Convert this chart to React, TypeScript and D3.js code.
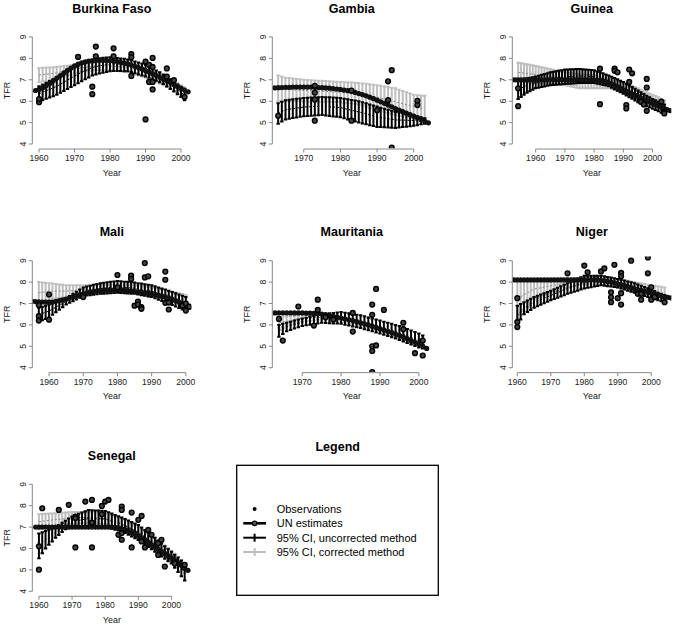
import React from "react";
import * as d3 from "d3";

const COUNTRIES = ["Burkina Faso", "Gambia", "Guinea", "Mali", "Mauritania", "Niger", "Senegal"];

// ---- UN estimates (one value per year, starting at UN_START) ----
const UN_START = [1959, 1962, 1952, 1955, 1963, 1959, 1959];
const UN_BF = [6.50,6.55,6.62,6.72,6.83,6.95,7.08,7.20,7.32,7.44,7.55,7.65,7.73,7.79,7.84,7.87,7.89,7.90,7.91,7.91,7.90,7.89,7.87,7.85,7.82,7.78,7.74,7.69,7.63,7.57,7.50,7.43,7.36,7.28,7.20,7.12,7.04,6.95,6.87,6.78,6.70,6.61,6.52,6.44];
const UN_GM = [6.62,6.63,6.64,6.65,6.65,6.66,6.66,6.66,6.66,6.66,6.66,6.65,6.64,6.63,6.62,6.61,6.59,6.57,6.55,6.52,6.49,6.46,6.41,6.36,6.31,6.25,6.19,6.12,6.05,5.97,5.90,5.82,5.74,5.66,5.59,5.52,5.44,5.37,5.30,5.23,5.15,5.07,4.99];
const UN_GN = [7.00,7.00,7.00,7.00,7.00,7.00,7.00,7.00,7.00,7.00,7.00,7.00,7.00,7.00,7.00,7.00,7.00,7.00,7.00,7.00,7.00,7.00,7.00,7.00,7.00,7.00,7.00,7.00,7.00,6.99,6.97,6.95,6.91,6.86,6.80,6.74,6.67,6.60,6.53,6.46,6.40,6.33,6.27,6.21,6.15,6.09,6.03,5.97,5.91,5.85,5.79,5.73,5.67,5.61,5.56];
const UN_ML = [7.10,7.09,7.08,7.07,7.06,7.06,7.07,7.10,7.13,7.17,7.21,7.26,7.31,7.36,7.41,7.45,7.49,7.53,7.56,7.58,7.60,7.61,7.62,7.63,7.63,7.63,7.62,7.61,7.60,7.58,7.56,7.54,7.52,7.50,7.48,7.45,7.42,7.38,7.34,7.30,7.25,7.19,7.13,7.06,6.98,6.90,6.83];
const UN_MR = [6.56,6.56,6.56,6.56,6.56,6.56,6.56,6.56,6.55,6.55,6.54,6.53,6.51,6.48,6.44,6.40,6.36,6.32,6.28,6.24,6.20,6.15,6.10,6.05,6.00,5.94,5.88,5.82,5.76,5.70,5.64,5.57,5.50,5.43,5.35,5.27,5.19,5.11,5.01,4.90];
const UN_NE = [8.10,8.10,8.10,8.10,8.10,8.10,8.10,8.10,8.10,8.10,8.10,8.10,8.10,8.10,8.10,8.10,8.10,8.10,8.10,8.10,8.10,8.10,8.10,8.10,8.10,8.10,8.08,8.06,8.03,8.00,7.96,7.92,7.88,7.84,7.79,7.74,7.69,7.65,7.61,7.57,7.53,7.49,7.45,7.41,7.37,7.33,7.29,7.26];
const UN_SN = [7.00,7.00,7.00,7.00,7.00,7.00,7.00,7.00,7.00,7.00,7.00,7.00,7.00,7.00,7.00,7.00,7.00,7.00,7.00,7.00,7.00,7.00,7.00,7.00,6.99,6.97,6.93,6.88,6.82,6.75,6.67,6.58,6.48,6.38,6.27,6.16,6.06,5.96,5.86,5.76,5.66,5.56,5.45,5.34,5.22,5.10,4.98];

// ---- 95% CI, one bar per year starting at CI_START ----
const CI_START = [1960, 1963, 1954, 1957, 1964, 1960, 1960];
// uncorrected (black)
const UNC_LO_BF = [6.00,6.05,6.11,6.17,6.23,6.30,6.39,6.48,6.57,6.66,6.75,6.84,6.93,7.02,7.11,7.20,7.25,7.29,7.33,7.37,7.40,7.41,7.41,7.41,7.40,7.40,7.36,7.31,7.25,7.20,7.15,7.09,7.02,6.95,6.88,6.80,6.69,6.57,6.45,6.33,6.20,6.05];
const UNC_HI_BF = [6.70,6.78,6.86,6.94,7.02,7.10,7.20,7.30,7.40,7.50,7.60,7.68,7.76,7.83,7.89,7.95,7.98,8.01,8.03,8.04,8.05,8.04,8.02,8.00,7.98,7.95,7.91,7.86,7.81,7.76,7.70,7.62,7.53,7.44,7.35,7.25,7.14,7.02,6.90,6.78,6.65,6.50];
const UNC_LO_GM = [4.95,5.05,5.15,5.18,5.21,5.24,5.27,5.30,5.31,5.32,5.33,5.34,5.35,5.33,5.31,5.29,5.27,5.25,5.20,5.15,5.10,5.05,5.00,4.96,4.92,4.88,4.84,4.80,4.79,4.78,4.77,4.76,4.75,4.77,4.79,4.81,4.83,4.85,4.88,4.92,4.95];
const UNC_HI_GM = [5.90,5.98,6.05,6.07,6.09,6.11,6.13,6.15,6.16,6.17,6.18,6.19,6.20,6.19,6.18,6.17,6.16,6.15,6.12,6.09,6.06,6.03,6.00,5.95,5.90,5.85,5.80,5.75,5.70,5.65,5.60,5.55,5.50,5.47,5.44,5.41,5.38,5.35,5.30,5.25,5.20];
const UNC_LO_GN = [6.10,6.20,6.30,6.40,6.47,6.54,6.60,6.63,6.66,6.69,6.72,6.75,6.76,6.77,6.78,6.79,6.80,6.81,6.82,6.83,6.84,6.85,6.85,6.85,6.85,6.85,6.85,6.82,6.79,6.76,6.73,6.70,6.63,6.56,6.49,6.42,6.35,6.27,6.19,6.11,6.03,5.95,5.89,5.83,5.77,5.71,5.65,5.59,5.53,5.46,5.40];
const UNC_HI_GN = [7.00,7.02,7.05,7.07,7.10,7.12,7.15,7.19,7.23,7.27,7.31,7.35,7.38,7.40,7.43,7.45,7.48,7.48,7.49,7.49,7.50,7.50,7.49,7.48,7.47,7.46,7.45,7.40,7.35,7.30,7.25,7.20,7.14,7.08,7.02,6.96,6.90,6.82,6.74,6.66,6.58,6.50,6.42,6.34,6.26,6.18,6.10,6.04,5.98,5.91,5.85];
const UNC_LO_ML = [6.15,6.22,6.28,6.35,6.47,6.59,6.71,6.83,6.95,7.03,7.11,7.19,7.27,7.35,7.37,7.39,7.41,7.43,7.45,7.46,7.47,7.48,7.49,7.50,7.49,7.48,7.47,7.46,7.45,7.42,7.39,7.36,7.33,7.30,7.24,7.18,7.12,7.06,7.00,6.93,6.86,6.79,6.72,6.65];
const UNC_HI_ML = [6.80,6.85,6.90,6.95,7.01,7.07,7.13,7.19,7.25,7.35,7.45,7.55,7.65,7.75,7.79,7.83,7.87,7.91,7.95,7.97,7.99,8.01,8.03,8.05,8.04,8.02,8.01,7.99,7.98,7.95,7.93,7.90,7.88,7.85,7.80,7.75,7.70,7.65,7.60,7.54,7.48,7.42,7.36,7.30];
const UNC_LO_MR = [5.45,5.58,5.70,5.76,5.83,5.89,5.95,5.98,6.01,6.04,6.07,6.10,6.09,6.08,6.07,6.06,6.05,6.01,5.97,5.93,5.89,5.85,5.80,5.75,5.70,5.65,5.60,5.54,5.48,5.42,5.36,5.30,5.23,5.16,5.09,5.02,4.95,4.90];
const UNC_HI_MR = [6.00,6.05,6.10,6.15,6.20,6.25,6.30,6.34,6.38,6.42,6.46,6.50,6.52,6.54,6.56,6.58,6.60,6.57,6.54,6.51,6.48,6.45,6.40,6.35,6.30,6.25,6.20,6.15,6.10,6.05,6.00,5.95,5.88,5.81,5.74,5.67,5.60,5.50];
const UNC_LO_NE = [6.00,6.25,6.50,6.60,6.70,6.80,6.87,6.94,7.01,7.08,7.15,7.21,7.27,7.33,7.39,7.45,7.50,7.55,7.60,7.65,7.70,7.73,7.76,7.79,7.82,7.85,7.83,7.81,7.79,7.77,7.75,7.70,7.65,7.60,7.55,7.50,7.45,7.40,7.35,7.30,7.25,7.20,7.15,7.10,7.05];
const UNC_HI_NE = [6.90,6.98,7.06,7.14,7.22,7.30,7.36,7.42,7.48,7.54,7.60,7.67,7.74,7.81,7.88,7.95,8.02,8.09,8.16,8.23,8.30,8.30,8.30,8.30,8.30,8.30,8.27,8.24,8.21,8.18,8.15,8.11,8.07,8.03,7.99,7.95,7.89,7.83,7.77,7.71,7.65,7.58,7.50,7.43,7.35];
const UNC_LO_SN = [5.55,5.78,6.00,6.17,6.33,6.50,6.63,6.77,6.90,6.95,7.00,7.00,7.00,7.00,7.00,7.00,7.00,7.00,7.00,7.00,7.00,6.96,6.92,6.88,6.84,6.80,6.72,6.64,6.56,6.48,6.40,6.29,6.18,6.07,5.96,5.85,5.74,5.63,5.52,5.41,5.30,5.10,4.90,4.70,4.50];
const UNC_HI_SN = [6.70,6.76,6.82,6.88,6.94,7.00,7.10,7.20,7.30,7.40,7.50,7.56,7.62,7.68,7.74,7.80,7.79,7.78,7.77,7.76,7.75,7.69,7.63,7.57,7.51,7.45,7.38,7.31,7.24,7.17,7.10,6.98,6.86,6.74,6.62,6.50,6.37,6.24,6.11,5.98,5.85,5.71,5.58,5.44,5.30];
// corrected (grey)
const COR_LO_BF = [6.90,6.93,6.96,6.99,7.02,7.05,7.10,7.15,7.20,7.25,7.30,7.34,7.38,7.41,7.43,7.45,7.46,7.46,7.46,7.46,7.45,7.43,7.41,7.39,7.37,7.35,7.30,7.25,7.20,7.15,7.10,7.03,6.96,6.89,6.82,6.75,6.66,6.57,6.48,6.39,6.30,6.20];
const COR_HI_BF = [7.55,7.56,7.57,7.58,7.59,7.60,7.62,7.64,7.66,7.68,7.70,7.72,7.74,7.76,7.78,7.80,7.81,7.82,7.83,7.84,7.85,7.85,7.84,7.83,7.82,7.80,7.75,7.70,7.65,7.60,7.55,7.48,7.41,7.34,7.27,7.20,7.11,7.02,6.93,6.84,6.75,6.65];
const COR_LO_GM = [6.00,6.00,6.00,6.00,6.00,6.00,6.00,6.00,6.00,5.99,5.99,5.98,5.98,5.97,5.97,5.96,5.96,5.95,5.93,5.91,5.89,5.87,5.85,5.80,5.75,5.70,5.65,5.60,5.55,5.50,5.45,5.40,5.35,5.32,5.29,5.26,5.23,5.20,5.15,5.10,5.05];
const COR_HI_GM = [7.20,7.15,7.10,7.08,7.06,7.04,7.02,7.00,6.99,6.98,6.97,6.96,6.95,6.94,6.93,6.92,6.91,6.90,6.89,6.88,6.87,6.86,6.85,6.83,6.81,6.79,6.77,6.75,6.72,6.69,6.66,6.63,6.60,6.54,6.48,6.42,6.36,6.30,6.28,6.27,6.25];
const COR_LO_GN = [6.90,6.89,6.88,6.88,6.87,6.86,6.85,6.84,6.83,6.82,6.81,6.80,6.79,6.78,6.77,6.76,6.75,6.72,6.69,6.66,6.63,6.60,6.60,6.60,6.60,6.60,6.60,6.60,6.60,6.60,6.60,6.60,6.56,6.52,6.48,6.44,6.40,6.33,6.26,6.19,6.12,6.05,6.00,5.95,5.90,5.85,5.80,5.75,5.70,5.65,5.60];
const COR_HI_GN = [7.80,7.78,7.75,7.73,7.70,7.68,7.65,7.62,7.59,7.56,7.53,7.50,7.47,7.44,7.41,7.38,7.35,7.33,7.31,7.29,7.27,7.25,7.24,7.23,7.22,7.21,7.20,7.17,7.14,7.11,7.08,7.05,7.02,6.99,6.96,6.93,6.90,6.84,6.78,6.72,6.66,6.60,6.54,6.48,6.42,6.36,6.30,6.24,6.18,6.11,6.05];
const COR_LO_ML = [7.00,7.07,7.13,7.20,7.22,7.24,7.26,7.28,7.30,7.33,7.36,7.39,7.42,7.45,7.46,7.47,7.48,7.49,7.50,7.51,7.52,7.53,7.54,7.55,7.54,7.53,7.52,7.51,7.50,7.47,7.44,7.41,7.38,7.35,7.31,7.27,7.23,7.19,7.15,7.10,7.05,7.00,6.95,6.90];
const COR_HI_ML = [8.00,7.98,7.97,7.95,7.93,7.91,7.89,7.87,7.85,7.85,7.85,7.85,7.85,7.85,7.85,7.85,7.85,7.85,7.85,7.86,7.87,7.88,7.89,7.90,7.89,7.88,7.87,7.86,7.85,7.83,7.81,7.79,7.77,7.75,7.72,7.69,7.66,7.63,7.60,7.56,7.52,7.48,7.44,7.40];
const COR_LO_MR = [5.85,5.90,5.95,6.00,6.05,6.10,6.15,6.17,6.19,6.21,6.23,6.25,6.23,6.21,6.19,6.17,6.15,6.11,6.07,6.03,5.99,5.95,5.90,5.85,5.80,5.75,5.70,5.63,5.56,5.49,5.42,5.35,5.29,5.23,5.17,5.11,5.05,5.00];
const COR_HI_MR = [6.35,6.37,6.38,6.40,6.42,6.43,6.45,6.45,6.45,6.45,6.45,6.45,6.43,6.41,6.39,6.37,6.35,6.31,6.27,6.23,6.19,6.15,6.10,6.05,6.00,5.95,5.90,5.84,5.78,5.72,5.66,5.60,5.53,5.46,5.39,5.32,5.25,5.20];
const COR_LO_NE = [6.30,6.48,6.66,6.84,7.02,7.20,7.26,7.32,7.38,7.44,7.50,7.55,7.60,7.65,7.70,7.75,7.78,7.81,7.84,7.87,7.90,7.90,7.90,7.90,7.90,7.90,7.87,7.84,7.81,7.78,7.75,7.71,7.67,7.63,7.59,7.55,7.51,7.47,7.43,7.39,7.35,7.31,7.28,7.24,7.20];
const COR_HI_NE = [8.15,8.15,8.15,8.15,8.15,8.15,8.15,8.15,8.15,8.15,8.15,8.16,8.16,8.17,8.17,8.18,8.18,8.19,8.19,8.20,8.20,8.21,8.22,8.23,8.24,8.25,8.23,8.21,8.19,8.17,8.15,8.12,8.09,8.06,8.03,8.00,7.97,7.94,7.91,7.88,7.85,7.83,7.80,7.78,7.75];
const COR_LO_SN = [6.90,6.93,6.96,6.99,7.02,7.05,7.07,7.09,7.11,7.13,7.15,7.16,7.17,7.18,7.19,7.20,7.19,7.18,7.17,7.16,7.15,7.11,7.07,7.03,6.99,6.95,6.87,6.79,6.71,6.63,6.55,6.44,6.33,6.22,6.11,6.00,5.89,5.78,5.67,5.56,5.45,5.30,5.15,5.00,4.85];
const COR_HI_SN = [7.60,7.61,7.62,7.63,7.64,7.65,7.66,7.67,7.68,7.69,7.70,7.70,7.70,7.70,7.70,7.70,7.69,7.68,7.67,7.66,7.65,7.60,7.55,7.50,7.45,7.40,7.32,7.24,7.16,7.08,7.00,6.90,6.80,6.70,6.60,6.50,6.38,6.26,6.14,6.02,5.90,5.75,5.60,5.45,5.30];

// ---- Observations ----
const OBS_X_BF = [1960,1960,1971,1975,1975,1976,1976,1981,1981,1986,1986,1986,1990,1990,1991,1991,1992,1992,1992,1992,1996,1996,1998,2001];
const OBS_Y_BF = [5.95,6.10,8.07,6.68,6.33,8.55,8.10,8.47,8.10,8.20,8.05,7.18,7.85,5.15,7.70,6.90,8.02,7.60,6.90,6.55,7.53,7.15,6.98,6.20];
const OBS_X_GM = [1963,1973,1973,1973,1973,1983,1983,1990,1993,1993,1994,1994,2001,2001];
const OBS_Y_GM = [5.32,6.72,6.40,6.08,5.09,6.50,5.09,5.58,6.93,6.05,7.45,3.83,6.02,5.82];
const OBS_X_GN = [1954,1954,1982,1982,1987,1987,1988,1991,1991,1992,1992,1993,1996,1997,1998,1998,1998,2003,2004,2004];
const OBS_Y_GN = [5.77,6.60,7.52,5.86,7.52,7.42,7.35,5.82,5.66,7.48,6.90,7.30,5.97,5.85,7.04,6.64,5.55,5.98,5.50,5.43];
const OBS_X_ML = [1957,1957,1957,1960,1960,1970,1980,1980,1984,1984,1985,1986,1986,1987,1987,1988,1988,1989,1994,1994,1994,1995,1995,1999,2000,2000,2001];
const OBS_Y_ML = [6.93,6.41,6.20,7.42,6.24,7.30,8.33,7.76,8.30,8.15,6.90,7.09,6.95,6.83,6.75,8.89,8.22,8.27,8.49,8.11,7.03,6.72,7.05,6.90,6.67,7.00,6.85];
const OBS_X_MR = [1964,1965,1969,1973,1974,1974,1976,1978,1983,1983,1988,1988,1988,1988,1988,1989,1989,1991,1996,1996,1999,2001,2001];
const OBS_Y_MR = [6.28,5.27,6.86,5.97,7.18,6.70,6.36,6.25,6.56,5.69,6.95,6.47,5.00,4.78,3.80,7.68,5.04,6.70,6.10,5.80,4.68,5.27,4.57];
const OBS_X_NE = [1960,1960,1960,1975,1980,1981,1985,1986,1988,1988,1988,1989,1990,1991,1991,1991,1991,1994,1996,1997,1997,1999,1999,2000,2000,2001,2004];
const OBS_Y_NE = [7.25,6.13,5.90,8.41,8.77,8.46,8.50,8.64,7.52,7.29,7.06,8.81,7.25,8.43,8.27,7.48,6.95,9.00,7.45,7.45,7.18,9.15,8.41,7.76,7.18,7.30,7.06];
const OBS_X_SN = [1960,1960,1961,1966,1969,1971,1971,1971,1974,1976,1976,1976,1979,1979,1980,1981,1984,1985,1985,1985,1985,1988,1988,1990,1991,1991,1992,1993,1994,1996,1996,1997,1998,2001,2004];
const OBS_Y_SN = [5.01,6.10,7.88,7.80,8.04,7.49,7.42,6.05,8.19,8.27,7.21,6.05,7.99,7.60,8.19,8.27,6.64,7.96,7.80,6.72,6.41,7.68,6.05,7.34,7.52,6.33,6.05,6.87,6.64,6.25,5.70,6.41,5.16,5.30,5.24];

const Y_TICKS = [4, 5, 6, 7, 8, 9];
const Y_DOMAIN = [3.8, 9.2];
const X_DOMAINS = [[1958.1, 2002.9], [1961.4, 2004.8], [1952.0, 2006.4], [1955.1, 2001.6], [1962.3, 2003.2], [1958.5, 2006.0], [1958.0, 2006.0]];

const LEGEND_LABELS = ["Observations", "UN estimates", "95% CI, uncorrected method", "95% CI, corrected method"];

const UN = [UN_BF, UN_GM, UN_GN, UN_ML, UN_MR, UN_NE, UN_SN];
const UNC_LO = [UNC_LO_BF, UNC_LO_GM, UNC_LO_GN, UNC_LO_ML, UNC_LO_MR, UNC_LO_NE, UNC_LO_SN];
const UNC_HI = [UNC_HI_BF, UNC_HI_GM, UNC_HI_GN, UNC_HI_ML, UNC_HI_MR, UNC_HI_NE, UNC_HI_SN];
const COR_LO = [COR_LO_BF, COR_LO_GM, COR_LO_GN, COR_LO_ML, COR_LO_MR, COR_LO_NE, COR_LO_SN];
const COR_HI = [COR_HI_BF, COR_HI_GM, COR_HI_GN, COR_HI_ML, COR_HI_MR, COR_HI_NE, COR_HI_SN];
const OBS_X = [OBS_X_BF, OBS_X_GM, OBS_X_GN, OBS_X_ML, OBS_X_MR, OBS_X_NE, OBS_X_SN];
const OBS_Y = [OBS_Y_BF, OBS_Y_GM, OBS_Y_GN, OBS_Y_ML, OBS_Y_MR, OBS_Y_NE, OBS_Y_SN];

// layout
const W = 675, H = 626;
const COL_X = [0, 240, 480];
const ROW_Y = [0, 223.7, 447.3];
const PL = 32.3, PW = 159, PT = 32.7, PH = 115.6;
const FONT = "'Liberation Sans', Arial, Helvetica, sans-serif";
const GREY = "#bebebe";

function Bars({ lo, hi, start, x, y, color, dash }: any) {
  const n = Math.min(lo.length, hi.length);
  const cap = 1.7;
  const items = [];
  for (let i = 0; i < n; i++) {
    const px = x(start + i);
    const y0 = y(lo[i]);
    const y1 = y(hi[i]);
    items.push(
      <path key={i} d={`M${px - cap},${y1}H${px + cap}M${px},${y1}V${y0}M${px - cap},${y0}H${px + cap}`} stroke={color} strokeWidth={2} fill="none" />
    );
  }
  const mid = lo.slice(0, n).map((v: number, i: number) => [start + i, (v + hi[i]) / 2]);
  const line = d3.line().x((d: any) => x(d[0])).y((d: any) => y(d[1]));
  return (
    <g>
      {items}
      <path d={line(mid as any) || ""} stroke={dash} strokeWidth={1} strokeDasharray="2,2" fill="none" />
    </g>
  );
}

function Panel({ idx }: { idx: number }) {
  const col = idx % 3;
  const row = Math.floor(idx / 3);
  const ox = COL_X[col];
  const oy = ROW_Y[row];
  const x = d3.scaleLinear().domain(X_DOMAINS[idx]).range([ox + PL, ox + PL + PW]);
  const y = d3.scaleLinear().domain(Y_DOMAIN).range([oy + PT + PH, oy + PT]);
  const [d0, d1] = X_DOMAINS[idx];
  const xTicks = d3.range(Math.ceil(d0 / 10) * 10, d1 + 0.001, 10);
  const unData = UN[idx].map((v: number, i: number) => [UN_START[idx] + i, v]);
  const line = d3.line().x((d: any) => x(d[0])).y((d: any) => y(d[1]));
  const clipId = `clip${idx}`;
  const axY = oy + PT + PH + 0.7;
  const axX = ox + PL;
  const cx = ox + PL + PW / 2;
  return (
    <g>
      <defs>
        <clipPath id={clipId}>
          <rect x={ox + PL} y={oy + PT} width={PW} height={PH} />
        </clipPath>
      </defs>
      <text x={cx} y={oy + 12.6} textAnchor="middle" fontSize={12.5} fontWeight="bold" fontFamily={FONT} fill="#000">{COUNTRIES[idx]}</text>
      <g clipPath={`url(#${clipId})`}>
        <Bars lo={COR_LO[idx]} hi={COR_HI[idx]} start={CI_START[idx]} x={x} y={y} color={GREY} dash="#8a8a8a" />
        <Bars lo={UNC_LO[idx]} hi={UNC_HI[idx]} start={CI_START[idx]} x={x} y={y} color="#000" dash="#000" />
        <path d={line(unData as any) || ""} stroke="#000" strokeWidth={3} fill="none" />
        {unData.map((d: any, i: number) => (
          <circle key={i} cx={x(d[0])} cy={y(d[1])} r={2.6} fill="#111" />
        ))}
        {OBS_X[idx].map((yr: number, i: number) => (
          <circle key={"o" + i} cx={x(yr)} cy={y(OBS_Y[idx][i])} r={2.4} fill="#444" stroke="#000" strokeWidth={1.4} />
        ))}
      </g>
      {/* x axis */}
      <line x1={x(xTicks[0])} x2={x(xTicks[xTicks.length - 1])} y1={axY} y2={axY} stroke="#888" strokeWidth={1} />
      {xTicks.map((t: number) => (
        <g key={t}>
          <line x1={x(t)} x2={x(t)} y1={axY} y2={axY + 3.5} stroke="#888" strokeWidth={1} />
          <text x={x(t)} y={axY + 11.8} textAnchor="middle" fontSize={8.6} fontFamily={FONT} fill="#222">{t}</text>
        </g>
      ))}
      <text x={cx} y={oy + 175.5} textAnchor="middle" fontSize={9} fontFamily={FONT} fill="#222">Year</text>
      {/* y axis */}
      <line x1={axX} x2={axX} y1={y(4)} y2={y(9)} stroke="#888" strokeWidth={1} />
      {Y_TICKS.map((t) => (
        <g key={t}>
          <line x1={axX - 3.5} x2={axX} y1={y(t)} y2={y(t)} stroke="#888" strokeWidth={1} />
          <text transform={`translate(${axX - 9},${y(t)}) rotate(-90)`} textAnchor="middle" dominantBaseline="central" fontSize={8.6} fontFamily={FONT} fill="#222">{t}</text>
        </g>
      ))}
      <text transform={`translate(${ox + 6.5},${oy + PT + PH / 2}) rotate(-90)`} textAnchor="middle" dominantBaseline="central" fontSize={9} fontFamily={FONT} fill="#222">TFR</text>
    </g>
  );
}

function Legend() {
  const bx = 236.7, by = 465.3, bw = 201.6, bh = 130;
  const rowsY = [509, 523.3, 537.7, 552];
  const sx0 = 243.3, sx1 = 266, sc = 254.6, tx = 276.7;
  return (
    <g>
      <text x={337.7} y={451} textAnchor="middle" fontSize={12.5} fontWeight="bold" fontFamily={FONT} fill="#000">Legend</text>
      <rect x={bx} y={by} width={bw} height={bh} fill="none" stroke="#000" strokeWidth={1.3} />
      <circle cx={sc} cy={rowsY[0]} r={2} fill="#000" />
      <line x1={sx0} x2={sx1} y1={rowsY[1]} y2={rowsY[1]} stroke="#000" strokeWidth={2.6} />
      <circle cx={sc} cy={rowsY[1]} r={2.3} fill="#555" stroke="#000" strokeWidth={1.2} />
      <line x1={sx0} x2={sx1} y1={rowsY[2]} y2={rowsY[2]} stroke="#000" strokeWidth={2} />
      <line x1={sc} x2={sc} y1={rowsY[2] - 4} y2={rowsY[2] + 4} stroke="#000" strokeWidth={2} />
      <line x1={sx0} x2={sx1} y1={rowsY[3]} y2={rowsY[3]} stroke={GREY} strokeWidth={2} />
      <line x1={sc} x2={sc} y1={rowsY[3] - 4} y2={rowsY[3] + 4} stroke={GREY} strokeWidth={2} />
      {LEGEND_LABELS.map((l, i) => (
        <text key={l} x={tx} y={rowsY[i] + 4} fontSize={11} fontFamily={FONT} fill="#000">{l}</text>
      ))}
    </g>
  );
}

export default function App() {
  return (
    <svg width={W} height={H} viewBox={`0 0 ${W} ${H}`} style={{ position: "absolute", left: 0, top: 0, background: "#fff" }}>
      <rect x={0} y={0} width={W} height={H} fill="#fff" />
      {COUNTRIES.map((c, i) => (
        <Panel key={c} idx={i} />
      ))}
      <Legend />
    </svg>
  );
}
